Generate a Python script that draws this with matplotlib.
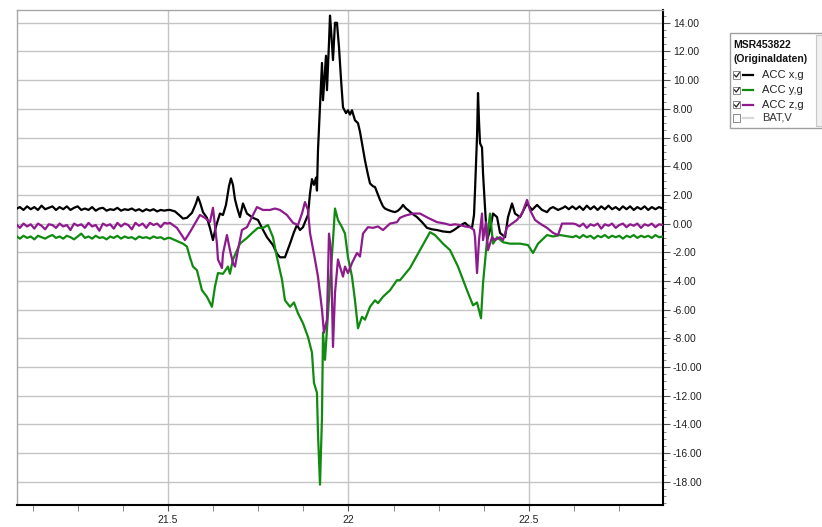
import numpy as np
import matplotlib
matplotlib.use("Agg")
import matplotlib.pyplot as plt
from matplotlib.lines import Line2D
from matplotlib.patches import Rectangle
from matplotlib.ticker import MultipleLocator, FixedLocator, FormatStrFormatter

plt.rcParams['font.family'] = ['Liberation Sans', 'DejaVu Sans']

# Zeitachse der ruhigen Abschnitte (links / rechts)
t_left = [21.082, 21.09, 21.10, 21.11, 21.12, 21.13, 21.14, 21.15, 21.16, 21.17,
          21.18, 21.19, 21.20, 21.21, 21.22, 21.23, 21.24, 21.25, 21.26, 21.27,
          21.28, 21.29, 21.30, 21.31, 21.32, 21.33, 21.34, 21.35, 21.36, 21.37,
          21.38, 21.39, 21.40, 21.41, 21.42, 21.43, 21.44, 21.45, 21.46, 21.47,
          21.48, 21.49, 21.50]
t_right = [22.63, 22.64, 22.65, 22.66, 22.67, 22.68, 22.69, 22.70, 22.71, 22.72,
           22.73, 22.74, 22.75, 22.76, 22.77, 22.78, 22.79, 22.80, 22.81, 22.82,
           22.83, 22.84, 22.85, 22.86, 22.87]

# ACC x,g
accx_left = [1.05, 1.15, 0.95, 1.2, 1.0, 1.15, 0.95, 1.25, 1.0, 1.1,
             1.2, 0.95, 1.15, 1.0, 1.2, 0.95, 1.1, 1.2, 0.95, 1.05,
             0.95, 1.15, 0.9, 1.05, 1.1, 0.9, 1.0, 0.95, 1.1, 0.9,
             1.0, 0.95, 1.05, 0.9, 1.0, 0.85, 1.0, 0.9, 1.0, 0.85,
             0.95, 0.9, 0.95]
accx_mid = [(21.5055, 0.95), (21.5194, 0.85), (21.5332, 0.55), (21.5416, 0.35), (21.5526, 0.4),
            (21.5665, 0.75), (21.5776, 1.4), (21.5831, 1.85), (21.5886, 1.5), (21.597, 0.8),
            (21.608, 0.4), (21.6163, -0.3), (21.6247, -1.15), (21.633, -0.2), (21.644, 0.7),
            (21.6524, 0.6), (21.6607, 1.3), (21.669, 2.6), (21.6745, 3.15), (21.6801, 2.7),
            (21.6856, 1.7), (21.6911, 1.15), (21.6994, 0.45), (21.7078, 1.4), (21.7188, 0.7),
            (21.7355, 0.4), (21.7493, 0.25), (21.7604, -0.3), (21.7742, -0.95), (21.7909, -1.5),
            (21.8019, -2.1), (21.8102, -2.35), (21.8241, -2.35), (21.838, -1.4), (21.849, -0.6),
            (21.8573, -0.1), (21.8657, -0.45), (21.874, -0.25), (21.8795, 0.1), (21.8878, 0.6),
            (21.8934, 2.1), (21.8989, 3.1), (21.9044, 2.7), (21.91, 3.2), (21.9127, 2.3),
            (21.9155, 5.1), (21.9211, 8.1), (21.9266, 11.2), (21.9294, 8.6), (21.9349, 10.6),
            (21.9377, 11.7), (21.9404, 9.3), (21.946, 12.6), (21.9488, 14.5), (21.9515, 13.6),
            (21.9571, 11.4), (21.9626, 14.0), (21.9681, 14.0), (21.9737, 12.3), (21.9792, 10.1),
            (21.9848, 8.1), (21.9931, 7.7), (21.9986, 7.9), (22.0042, 7.6), (22.0097, 7.9),
            (22.018, 7.2), (22.0263, 7.0), (22.0319, 6.4), (22.0374, 5.6), (22.0457, 4.4),
            (22.054, 3.4), (22.0596, 2.8), (22.0679, 2.6), (22.0734, 2.55), (22.0817, 2.0),
            (22.0873, 1.65), (22.0956, 1.2), (22.1011, 1.05), (22.1094, 0.95), (22.1205, 0.85),
            (22.1288, 0.8), (22.1371, 0.9), (22.1454, 1.1), (22.151, 1.3), (22.1593, 1.05),
            (22.1648, 0.95), (22.1759, 0.7), (22.1898, 0.45), (22.2036, 0.1), (22.2175, -0.3),
            (22.2313, -0.4), (22.2452, -0.45), (22.2618, -0.55), (22.2812, -0.6), (22.2922, -0.45),
            (22.3006, -0.3), (22.3116, -0.1), (22.3227, 0.05), (22.331, -0.15), (22.3421, -0.3),
            (22.3476, 0.6), (22.3504, 2.3), (22.356, 6.1), (22.3587, 9.1), (22.3615, 7.1),
            (22.3643, 5.6), (22.3698, 5.3), (22.3726, 3.5), (22.3781, 1.1), (22.3837, -1.15),
            (22.392, -0.45), (22.4003, 0.7), (22.4114, 0.45), (22.4197, -0.65), (22.4335, -0.95),
            (22.4418, 0.45), (22.4529, 1.4), (22.4612, 0.7), (22.4751, 0.45), (22.4861, 1.0),
            (22.4945, 1.4), (22.5083, 0.95), (22.5222, 1.3), (22.536, 0.95), (22.5499, 0.8),
            (22.5582, 1.05), (22.5665, 1.15), (22.5803, 0.95), (22.5942, 1.1), (22.60, 1.2),
            (22.61, 1.0), (22.62, 1.2)]
accx_right = [1.0, 1.2, 0.95, 1.25, 1.0, 1.2, 0.95, 1.2, 1.0, 1.25,
              1.0, 1.15, 0.95, 1.2, 1.0, 1.2, 0.95, 1.15, 1.0, 1.2,
              0.95, 1.15, 1.0, 1.15, 1.05]

# ACC y,g
accy_left = [-0.9, -1.05, -0.85, -1.0, -0.9, -1.1, -0.85, -0.95, -1.05, -0.9,
             -0.8, -1.0, -0.9, -1.05, -0.85, -0.95, -1.1, -0.9, -0.7, -1.0,
             -0.9, -1.05, -0.85, -1.0, -0.95, -1.1, -0.9, -1.0, -0.85, -1.05,
             -0.9, -1.0, -0.95, -1.1, -0.9, -1.0, -0.95, -1.05, -0.9, -1.0,
             -0.95, -1.1, -1.0]
accy_mid = [(21.5055, -1.0), (21.5416, -1.4), (21.5526, -1.6), (21.5609, -2.35), (21.5693, -3.0),
            (21.5803, -3.25), (21.5942, -4.65), (21.608, -5.1), (21.6219, -5.8), (21.6302, -4.4),
            (21.6385, -3.45), (21.6524, -3.5), (21.6662, -3.0), (21.6717, -3.5), (21.6801, -2.5),
            (21.6994, -1.4), (21.7188, -1.0), (21.7355, -0.6), (21.7493, -0.3), (21.7632, -0.3),
            (21.777, -0.1), (21.7909, -0.95), (21.8019, -2.35), (21.8158, -3.9), (21.8241, -5.35),
            (21.838, -5.8), (21.849, -5.5), (21.8601, -6.25), (21.874, -6.95), (21.8878, -7.9),
            (21.8989, -9.0), (21.9044, -11.1), (21.9127, -11.8), (21.9155, -14.6), (21.9211, -18.2),
            (21.9266, -13.5), (21.9294, -7.6), (21.9349, -9.5), (21.9404, -7.4), (21.9488, -4.15),
            (21.9571, -1.15), (21.9626, 1.05), (21.9709, 0.25), (21.982, -0.25), (21.9903, -0.7),
            (21.9986, -2.35), (22.0097, -3.7), (22.018, -5.35), (22.0263, -7.3), (22.0374, -6.5),
            (22.0457, -6.7), (22.0596, -5.8), (22.0734, -5.35), (22.0817, -5.55), (22.0956, -5.1),
            (22.1149, -4.65), (22.1343, -3.95), (22.1426, -3.95), (22.1703, -3.1), (22.198, -1.85),
            (22.2257, -0.6), (22.2396, -0.8), (22.2618, -1.4), (22.2812, -1.85), (22.3033, -3.0),
            (22.3282, -4.65), (22.3449, -5.7), (22.356, -5.5), (22.367, -6.6), (22.3726, -4.15),
            (22.3837, -1.15), (22.392, 0.7), (22.4003, -1.4), (22.4114, -0.95), (22.428, -1.3),
            (22.4473, -1.4), (22.4751, -1.4), (22.4972, -1.5), (22.511, -2.05), (22.5249, -1.4),
            (22.5499, -0.8), (22.5665, -0.9), (22.5858, -0.8), (22.6219, -0.95)]
accy_right = [-0.85, -1.0, -0.8, -0.95, -0.85, -1.05, -0.85, -0.95, -0.8, -1.0,
              -0.85, -0.95, -0.85, -1.05, -0.85, -0.95, -0.8, -1.0, -0.85, -0.95,
              -0.85, -1.0, -0.8, -0.95, -0.9]

# ACC z,g
accz_left = [-0.1, -0.3, 0.0, -0.2, -0.05, -0.35, 0.0, -0.15, -0.4, -0.05,
             -0.1, -0.3, 0.0, -0.2, -0.1, -0.45, 0.0, -0.15, -0.05, -0.3,
             0.05, -0.2, -0.1, -0.5, 0.0, -0.15, -0.05, -0.35, 0.05, -0.2,
             0.0, -0.1, -0.4, 0.05, -0.15, 0.0, -0.3, 0.05, -0.1, 0.0,
             -0.25, 0.05, 0.0]
accz_mid = [(21.5055, 0.05), (21.5249, -0.3), (21.5471, -1.15), (21.5609, -0.6), (21.5748, 0.0),
            (21.5886, 0.6), (21.6025, 0.4), (21.6163, 0.1), (21.6247, 1.1), (21.6357, -1.4),
            (21.6385, -2.5), (21.6496, -3.1), (21.6524, -2.1), (21.6634, -0.8), (21.6717, -1.85),
            (21.6801, -2.75), (21.6856, -3.0), (21.6939, -1.85), (21.705, -0.45), (21.7188, -0.25),
            (21.7327, 0.45), (21.7465, 1.15), (21.7632, 0.95), (21.7825, 0.95), (21.7964, 1.05),
            (21.8102, 0.95), (21.8296, 0.6), (21.8463, 0.05), (21.8601, -0.1), (21.8712, 0.7),
            (21.8795, 1.5), (21.8878, 0.95), (21.8934, -0.65), (21.9072, -2.5), (21.9155, -3.7),
            (21.9266, -6.0), (21.9321, -7.6), (21.9404, -6.7), (21.946, -0.7), (21.9515, -1.85),
            (21.9571, -8.6), (21.9626, -4.85), (21.9709, -2.5), (21.9764, -3.0), (21.9848, -3.7),
            (21.9903, -3.0), (21.9986, -3.45), (22.0097, -2.75), (22.0235, -2.05), (22.0319, -2.3),
            (22.0402, -0.7), (22.054, -0.25), (22.0679, -0.3), (22.0817, -0.2), (22.0956, -0.45),
            (22.1149, 0.0), (22.1343, 0.1), (22.1426, 0.4), (22.1565, 0.55), (22.1787, 0.7),
            (22.198, 0.7), (22.2202, 0.4), (22.2452, 0.1), (22.2673, 0.0), (22.2812, -0.1),
            (22.295, -0.05), (22.3088, -0.1), (22.3227, -0.2), (22.3365, -0.25), (22.3476, -0.45),
            (22.3504, -0.95), (22.356, -3.45), (22.3615, -1.15), (22.3698, 0.7), (22.3726, -1.15),
            (22.3809, 0.1), (22.3864, -1.85), (22.3975, -0.95), (22.4058, -1.15), (22.4197, -0.95),
            (22.428, -1.15), (22.439, -0.25), (22.4529, 0.0), (22.4667, 0.25), (22.4806, 0.7),
            (22.4945, 1.65), (22.5027, 0.95), (22.5166, 0.25), (22.5304, 0.0), (22.5499, -0.3),
            (22.5665, -0.65), (22.5803, -0.8), (22.5914, 0.0), (22.6219, 0.0)]
accz_right = [-0.05, -0.2, 0.0, -0.3, -0.05, -0.15, 0.0, -0.35, -0.05, -0.15,
              0.0, -0.3, -0.1, 0.0, -0.25, -0.05, -0.15, 0.0, -0.3, -0.05,
              -0.15, 0.0, -0.25, -0.05, -0.1]

legend_title = "MSR453822\n(Originaldaten)"
legend_labels = ["ACC x,g", "ACC y,g", "ACC z,g", "BAT,V"]
legend_colors = ["#000000", "#118a11", "#8e1a8e", "#d8d8d8"]
legend_checked = [True, True, True, False]


def serie(left, mid, right):
    tm = [p[0] for p in mid]
    vm = [p[1] for p in mid]
    return np.array(t_left + tm + t_right), np.array(left + vm + right)


fig = plt.figure(figsize=(8.22, 5.27), dpi=100)
W, H = 822, 527
ax = fig.add_axes([17 / W, 1 - 505 / H, (663 - 17) / W, (505 - 10) / H])

for (left, mid, right), col in zip([(accx_left, accx_mid, accx_right),
                                    (accy_left, accy_mid, accy_right),
                                    (accz_left, accz_mid, accz_right)], legend_colors):
    t, v = serie(left, mid, right)
    ax.plot(t, v, color=col, lw=1.6, zorder=3)

ax.set_xlim(21.082, 22.871)
ax.set_ylim(-19.62, 14.89)

ax.yaxis.tick_right()
ax.set_yticks(np.arange(-18, 15, 2))
ax.yaxis.set_major_formatter(FormatStrFormatter('%.2f'))
ax.yaxis.set_minor_locator(MultipleLocator(0.5))
ax.xaxis.set_major_locator(FixedLocator([21.5, 22.0, 22.5]))
ax.set_xticklabels(['21.5', '22', '22.5'])
ax.xaxis.set_minor_locator(MultipleLocator(0.125))

ax.tick_params(axis='y', which='major', length=5, width=0.8, pad=2, labelsize=7.5,
               labelcolor='#222222', color='#555555')
ax.tick_params(axis='y', which='minor', length=2, width=0.6, color='#777777')
ax.tick_params(axis='x', which='major', length=4, width=0.8, pad=3, labelsize=7.5,
               labelcolor='#222222', color='#555555')
ax.tick_params(axis='x', which='minor', length=4, width=0.6, color='#777777')

ax.grid(True, which='major', color='#c4c4c4', lw=1.0, zorder=0)
ax.set_axisbelow(True)

for side in ['bottom', 'right']:
    ax.spines[side].set_color('black')
    ax.spines[side].set_linewidth(1.5)
for side in ['left', 'top']:
    ax.spines[side].set_color('#a8a8a8')
    ax.spines[side].set_linewidth(1.0)


def fx(px):
    return px / W


def fy(py):
    return 1 - py / H


# Legendenkasten
fig.add_artist(Rectangle((fx(730), fy(128)), fx(830) - fx(730), fy(33) - fy(128),
                         transform=fig.transFigure, facecolor='white',
                         edgecolor='#a0a0a0', lw=1.0))
fig.add_artist(Rectangle((fx(816), fy(126)), fx(830) - fx(816), fy(35) - fy(126),
                         transform=fig.transFigure, facecolor='#f0f0f0',
                         edgecolor='#c8c8c8', lw=0.8))

fig.text(fx(733), fy(52), legend_title, fontsize=7.5, fontweight='bold',
         va='center', ha='left', color='#111111', linespacing=1.5)

rows = [75, 90, 105, 118]
for py, lab, col, chk in zip(rows, legend_labels, legend_colors, legend_checked):
    fig.add_artist(Rectangle((fx(733), fy(py + 3.5)), 7 / W, 7 / H,
                             transform=fig.transFigure, facecolor='white',
                             edgecolor='#8a8a8a', lw=0.7))
    if chk:
        fig.add_artist(Line2D([fx(734.5), fx(736.3), fx(739.3)],
                              [fy(py), fy(py + 2), fy(py - 2.2)],
                              transform=fig.transFigure, color='#222222', lw=0.9))
    fig.add_artist(Line2D([fx(743), fx(753)], [fy(py), fy(py)],
                          transform=fig.transFigure, color=col, lw=1.6))
    fig.text(fx(762), fy(py), lab, fontsize=8, va='center', ha='left',
             color='#222222' if chk else '#333333')

fig.savefig('out.png', dpi=100)
